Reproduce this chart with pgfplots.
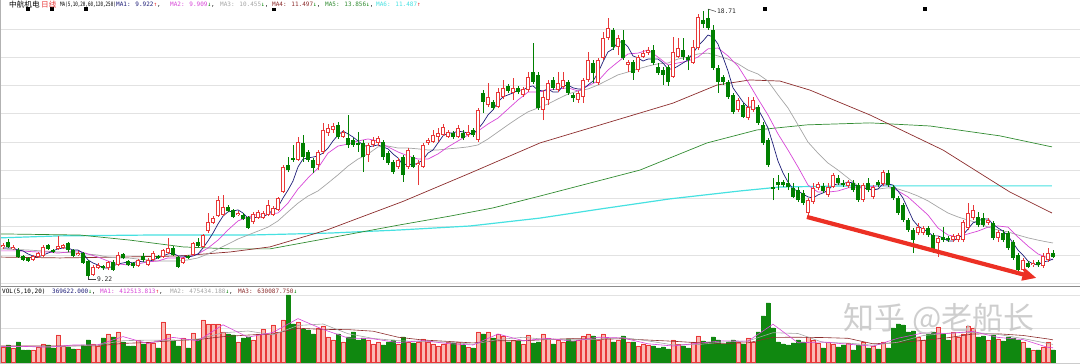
\documentclass[border=0pt]{standalone}
\usepackage{pgfplots}
\pgfplotsset{compat=1.18}
\usepackage{pgfplotstable}
\usepackage{graphicx}
\usepackage{fontspec}
\usetikzlibrary{arrows.meta}
\newfontfamily\cjk{Noto Sans CJK SC}
\newfontfamily\mono{DejaVu Sans Mono}

\definecolor{cred}{RGB}{232,56,56}
\definecolor{cgreen}{RGB}{0,128,0}
\definecolor{vgreen}{RGB}{16,136,16}
\definecolor{vpink}{RGB}{250,186,180}
\definecolor{mafive}{RGB}{30,30,120}
\definecolor{maten}{RGB}{215,70,215}
\definecolor{matwenty}{RGB}{165,165,165}
\definecolor{masixty}{RGB}{140,45,45}
\definecolor{maonetwenty}{RGB}{50,140,50}
\definecolor{matwofifty}{RGB}{70,225,225}
\definecolor{gridc}{RGB}{226,226,226}
\definecolor{arrowred}{RGB}{236,48,36}

% up (red) candles: index open high low close volume
\pgfplotstableread{
i o h l c v
0 10.29 10.43 10.22 10.36 450000
2 10.22 10.36 10.18 10.29 420000
6 9.83 10.00 9.79 9.97 360000
7 9.93 10.11 9.90 10.07 450000
8 9.97 10.36 9.93 10.29 540000
11 10.22 10.68 10.18 10.32 810000
12 10.25 10.39 10.22 10.36 480000
15 10.00 10.15 9.97 10.07 390000
18 9.30 9.65 9.26 9.58 540000
19 9.54 9.72 9.51 9.65 480000
21 9.54 9.79 9.47 9.76 840000
23 9.65 10.11 9.61 10.00 900000
27 9.61 9.86 9.58 9.83 660000
29 9.65 9.90 9.61 9.83 600000
30 9.83 10.15 9.79 10.07 570000
32 9.93 10.22 9.90 10.18 1200000
33 10.07 10.61 10.04 10.25 840000
36 9.72 9.93 9.69 9.90 720000
38 10.00 10.46 9.97 10.43 870000
40 10.29 10.75 10.25 10.71 1260000
41 10.85 11.49 10.78 11.17 1140000
42 11.14 11.38 11.10 11.31 1140000
43 11.38 12.09 11.35 11.95 1140000
44 11.42 12.13 11.38 11.70 900000
47 11.42 11.56 11.38 11.49 600000
50 11.17 11.53 11.10 11.45 660000
51 11.31 11.60 11.28 11.53 840000
52 11.31 11.56 11.28 11.49 990000
53 11.42 11.95 11.38 11.77 840000
54 11.42 11.74 11.38 11.67 1110000
55 11.60 12.06 11.56 12.02 900000
56 12.23 13.19 12.20 13.12 1260000
59 13.37 14.18 13.33 14.00 1200000
63 13.19 13.72 13.01 13.65 1020000
64 13.65 14.68 13.58 14.43 1080000
65 14.32 14.64 14.22 14.50 750000
66 14.43 14.68 14.32 14.57 660000
68 14.18 14.43 14.15 14.36 600000
73 13.54 13.97 13.30 13.90 660000
74 13.90 14.18 13.83 14.07 540000
75 13.97 14.22 13.86 14.15 600000
79 13.12 13.44 13.05 13.37 540000
81 13.12 13.79 13.05 13.72 600000
83 13.19 13.37 12.48 13.26 600000
84 13.12 13.97 13.08 13.90 690000
85 13.97 14.15 13.90 14.07 600000
86 14.00 14.43 13.97 14.25 540000
87 14.18 14.50 14.00 14.32 480000
88 14.25 14.64 14.22 14.53 540000
89 14.18 14.43 14.15 14.36 600000
91 14.18 14.61 14.15 14.50 600000
93 14.25 14.61 14.18 14.36 450000
95 14.07 15.21 14.00 15.14 900000
97 15.31 16.09 15.24 15.60 900000
99 15.24 15.92 15.21 15.77 840000
100 15.60 16.20 15.53 15.92 780000
102 15.74 16.27 15.49 15.92 660000
104 15.67 15.95 15.60 15.88 540000
105 15.84 16.48 15.77 16.31 810000
108 15.14 15.84 14.78 15.60 840000
109 15.49 16.20 15.31 16.09 720000
111 15.84 16.48 15.77 16.09 660000
112 15.95 16.48 15.88 16.20 600000
115 15.49 15.81 15.38 15.74 660000
116 15.60 16.27 15.38 16.20 780000
117 16.20 17.19 16.13 16.91 840000
119 16.09 16.98 16.02 16.91 660000
120 16.98 17.90 16.91 17.68 840000
121 17.68 18.39 17.61 18.04 720000
123 17.37 17.79 17.08 17.68 660000
125 16.73 16.91 16.48 16.84 600000
127 16.55 17.08 16.48 17.01 480000
128 17.01 17.26 16.98 17.15 540000
129 17.15 17.37 17.08 17.26 510000
134 16.31 17.72 16.27 17.19 660000
135 17.01 17.68 16.98 17.33 540000
138 16.80 17.61 16.77 17.37 600000
139 17.33 18.53 17.26 18.43 780000
147 15.14 15.56 15.07 15.49 600000
149 14.85 15.60 14.78 15.24 720000
150 15.14 15.60 15.07 15.49 600000
161 11.49 12.02 11.35 11.95 750000
162 11.88 12.55 11.81 12.38 660000
163 12.38 12.59 12.30 12.52 570000
165 12.13 12.55 12.06 12.41 600000
166 12.41 12.91 12.38 12.84 540000
169 12.45 12.66 12.38 12.59 570000
172 11.95 12.55 11.88 12.48 600000
174 12.06 12.48 11.99 12.41 480000
176 12.52 13.01 12.45 12.94 600000
183 10.78 11.14 10.71 10.99 750000
184 10.78 11.03 10.71 10.96 660000
187 10.43 10.68 9.93 10.61 1050000
190 10.53 10.75 10.46 10.68 900000
191 10.53 10.78 10.46 10.71 750000
192 10.53 11.24 10.46 11.17 840000
193 10.96 11.84 10.89 11.49 1080000
194 11.31 11.77 11.24 11.60 1020000
197 11.14 11.31 11.07 11.24 660000
199 10.61 10.89 10.46 10.82 690000
204 9.47 9.90 9.44 9.83 600000
206 9.65 9.83 9.58 9.72 360000
208 9.61 10.07 9.54 9.97 450000
209 9.83 10.25 9.76 10.07 600000
}\redc

% down (green) candles: index open high low close volume
\pgfplotstableread{
i o h l c v
1 10.46 10.57 10.25 10.29 510000
3 10.18 10.25 9.90 9.93 600000
4 9.97 10.00 9.79 9.83 360000
5 9.90 9.93 9.76 9.79 360000
9 10.36 10.39 10.18 10.22 510000
10 10.18 10.22 10.07 10.11 420000
13 10.43 10.46 10.11 10.18 450000
14 10.18 10.22 9.93 9.97 390000
16 10.07 10.11 9.69 9.72 510000
17 9.79 9.83 9.22 9.26 660000
20 9.61 9.65 9.47 9.54 720000
22 9.76 9.83 9.44 9.47 750000
24 10.04 10.07 9.86 9.90 600000
25 9.79 9.83 9.61 9.65 480000
26 9.72 9.76 9.54 9.61 480000
28 9.97 10.07 9.76 9.83 540000
31 9.97 10.00 9.86 9.90 420000
34 10.25 10.32 9.97 10.00 660000
35 9.93 9.97 9.54 9.58 480000
37 9.97 10.00 9.86 9.90 420000
39 10.46 10.61 10.29 10.32 690000
45 11.70 11.77 11.53 11.56 840000
46 11.60 11.63 11.31 11.35 810000
48 11.42 11.49 11.24 11.28 720000
49 11.35 11.38 10.92 10.96 750000
57 13.19 13.47 12.94 13.01 2010000
58 13.44 13.90 13.30 13.37 1140000
60 13.97 14.25 13.30 13.47 990000
61 13.65 13.72 13.30 13.37 960000
62 13.37 13.44 12.91 13.08 840000
67 14.61 14.71 14.11 14.18 840000
69 14.15 14.96 13.79 13.90 750000
70 14.07 14.15 13.83 13.90 900000
71 13.97 14.36 13.65 13.90 660000
72 13.97 14.07 12.94 13.47 720000
76 14.00 14.07 13.37 13.47 510000
77 13.61 13.69 13.19 13.26 600000
78 13.30 13.37 12.87 12.94 660000
80 13.47 13.54 12.59 12.84 750000
82 13.47 13.54 13.08 13.12 570000
90 14.32 14.39 14.11 14.18 570000
92 14.32 14.43 14.07 14.15 510000
94 14.43 14.50 14.18 14.25 420000
96 15.74 15.84 15.03 15.42 840000
98 15.42 15.49 15.14 15.21 720000
101 15.99 16.06 15.74 15.81 600000
103 15.92 15.99 15.70 15.77 630000
106 16.48 17.51 16.06 16.13 570000
107 16.38 16.48 15.14 15.21 600000
110 16.20 16.31 15.84 15.92 540000
113 16.13 16.20 15.67 15.74 690000
114 15.67 15.74 15.42 15.56 630000
118 16.80 16.91 16.09 16.45 780000
122 17.97 18.04 17.26 17.37 600000
124 17.61 17.97 16.91 16.98 780000
126 16.84 16.91 16.20 16.45 600000
130 17.26 17.44 16.73 16.80 480000
131 16.66 16.80 16.38 16.45 420000
132 16.55 16.66 16.02 16.38 450000
133 16.66 16.73 15.99 16.13 390000
136 17.26 17.68 16.91 17.01 480000
137 17.01 17.08 16.55 16.91 420000
140 18.32 18.64 18.04 18.18 630000
141 18.39 18.71 17.97 18.04 600000
142 17.97 18.15 16.55 16.62 750000
143 16.62 16.73 15.74 16.13 660000
144 16.31 16.38 16.02 16.13 540000
145 16.13 16.20 15.53 15.60 600000
146 15.67 15.74 14.99 15.07 660000
148 15.31 15.38 14.85 14.89 540000
151 15.24 15.31 14.61 14.68 900000
152 14.61 14.71 13.90 13.97 1380000
153 14.07 14.15 13.12 13.19 1770000
154 12.41 12.73 11.95 12.34 1020000
155 12.59 12.84 12.30 12.48 600000
156 12.59 12.66 12.41 12.48 540000
157 12.55 12.91 12.30 12.41 510000
158 12.38 12.55 12.02 12.06 570000
159 12.30 12.41 11.88 11.95 660000
160 12.20 12.30 11.77 11.84 600000
164 12.45 12.55 12.20 12.27 420000
167 12.73 12.84 12.48 12.55 450000
168 12.55 12.66 12.41 12.48 510000
170 12.55 12.66 12.23 12.30 360000
171 12.48 12.55 11.88 11.95 510000
173 12.55 12.73 12.23 12.30 420000
175 12.59 12.66 12.41 12.48 390000
177 12.91 13.01 12.41 12.48 420000
178 12.41 12.48 11.95 12.02 1020000
179 12.02 12.09 11.42 11.49 1140000
180 11.77 11.84 11.17 11.24 1110000
181 11.24 11.31 10.82 10.89 900000
182 10.89 10.96 10.07 10.53 930000
185 10.96 11.03 10.64 10.71 840000
186 10.71 10.78 10.07 10.18 900000
188 10.64 10.99 10.46 10.53 840000
189 10.61 10.68 10.46 10.53 660000
195 11.35 11.53 10.99 11.07 750000
196 11.31 11.49 10.99 11.07 780000
198 11.14 11.21 10.53 10.61 810000
200 10.78 10.89 10.46 10.53 630000
201 10.78 10.85 10.18 10.25 750000
202 10.46 10.53 9.83 9.90 720000
203 10.00 10.07 9.40 9.47 660000
205 9.72 9.79 9.54 9.58 420000
207 9.76 9.83 9.58 9.65 360000
210 10.07 10.18 9.90 9.93 360000
}\grnc

\begin{document}
\begin{tikzpicture}
\path[use as bounding box] (0,0) rectangle (1080pt,364pt);

% ---------------- price pane ----------------
\begin{axis}[
  at={(0pt,78pt)}, anchor=south west,
  width=1080pt, height=286pt, scale only axis,
  xmin=-0.6, xmax=215.4, ymin=8.906, ymax=19.03,
  enlargelimits=false,
  axis line style={draw=none}, tick style={draw=none},
  xtick=\empty, ytick={9,10,...,18}, yticklabels={},
  major tick length=0pt,
  ymajorgrids, grid style={gridc, line width=0.7pt},
  clip=true,
]
% MA250
\addplot[matwofifty, line width=1.2pt, mark=none] coordinates {
(-0.6,10.61)(11.4,10.68)(29.4,10.71)(49.4,10.71)(65.4,10.78)(79.4,10.89)(93.4,11.03)(107.4,11.31)(119.4,11.63)(133.4,11.99)(147.4,12.27)(155.4,12.41)(169.4,12.45)(189.4,12.45)(209.8,12.45)};
% MA120
\addplot[maonetwenty, line width=0.7pt, mark=none] coordinates {
(-0.6,10.75)(15.4,10.71)(25.4,10.53)(36,10.29)(45.4,10.22)(53.4,10.22)(65.4,10.61)(79.4,11.07)(89.4,11.38)(98,11.67)(107.4,12.09)(127.4,13.01)(140.8,13.97)(150.8,14.43)(160.8,14.61)(173.4,14.68)(185.4,14.57)(199.4,14.22)(209.8,13.83)};
% MA60
\addplot[masixty, line width=0.7pt, mark=none] coordinates {
(-0.6,9.93)(11.4,9.90)(23.4,9.93)(35.4,9.97)(45.4,10.11)(53.4,10.29)(64.8,10.89)(80,11.90)(93.4,12.90)(107.4,13.97)(120.8,14.68)(134,15.38)(142.8,16.02)(149.4,16.20)(155.4,16.16)(161.4,15.84)(173.4,14.96)(188,13.72)(201.4,12.23)(209.8,11.49)};
% MA20
\addplot[matwenty, line width=0.7pt, mark=none] coordinates {
(-0.6,10.22)(5,10.18)(11,10.11)(15,10.07)(19,10.00)(21,9.93)(23,9.90)(25,9.90)(27,9.86)(29,9.83)(31,9.79)(33,9.79)(35,9.79)(37,9.83)(39,9.90)(41,10.04)(43,10.22)(45,10.39)(47,10.57)(49,10.71)(51,10.85)(53,10.99)(55,11.21)(57,11.53)(59,11.84)(61,12.09)(63,12.27)(65,12.55)(67,12.84)(69,13.15)(71,13.40)(73,13.58)(75,13.83)(77,13.86)(79,13.79)(81,13.79)(83,13.76)(85,13.72)(87,13.72)(89,13.76)(91,13.79)(93,13.83)(95,13.90)(97,14.11)(99,14.36)(101,14.61)(103,14.85)(105,15.07)(107,15.21)(109,15.35)(111,15.53)(113,15.70)(115,15.81)(117,15.88)(119,16.02)(121,16.20)(123,16.38)(125,16.48)(127,16.59)(129,16.69)(131,16.77)(133,16.80)(135,16.94)(137,17.01)(139,17.12)(141,17.15)(143,17.05)(145,16.94)(147,16.77)(149,16.55)(151,16.41)(153,16.16)(155,15.67)(157,15.21)(159,14.61)(161,14.00)(163,13.61)(165,13.26)(167,13.01)(169,12.73)(171,12.45)(173,12.34)(175,12.34)(177,12.38)(179,12.34)(181,12.23)(183,12.09)(185,11.92)(187,11.70)(189,11.49)(191,11.35)(193,11.24)(195,11.14)(197,10.99)(199,10.89)(201,10.82)(203,10.71)(205,10.61)(207,10.53)(209,10.46)(210,10.43)};
% MA10
\addplot[maten, line width=0.7pt, mark=none] coordinates {
(-0.6,10.15)(3,10.15)(7,10.11)(9,10.11)(11,10.07)(13,10.11)(15,10.15)(17,10.04)(19,9.93)(21,9.79)(23,9.69)(25,9.65)(27,9.69)(29,9.76)(31,9.79)(33,9.90)(35,9.90)(37,9.93)(39,10.04)(41,10.25)(43,10.53)(45,10.89)(47,11.21)(49,11.35)(51,11.45)(53,11.45)(55,11.49)(57,11.84)(59,12.34)(61,12.73)(63,13.08)(65,13.61)(67,13.86)(69,13.93)(71,14.04)(73,14.11)(75,14.04)(77,13.83)(79,13.65)(81,13.51)(83,13.40)(85,13.40)(87,13.58)(89,13.83)(91,14.04)(93,14.25)(95,14.39)(97,14.64)(99,14.85)(101,15.17)(103,15.49)(105,15.77)(107,15.77)(109,15.84)(111,15.88)(113,15.92)(115,15.81)(117,15.99)(119,16.16)(121,16.55)(123,16.84)(125,17.12)(127,17.15)(129,17.26)(131,17.01)(133,16.73)(135,16.80)(137,16.87)(139,17.01)(141,17.30)(143,17.33)(145,17.05)(147,16.69)(149,16.13)(151,15.53)(153,14.96)(155,14.29)(157,13.72)(159,13.12)(161,12.48)(163,12.23)(165,12.23)(167,12.27)(169,12.38)(171,12.41)(173,12.41)(175,12.45)(177,12.45)(179,12.27)(181,12.06)(183,11.74)(185,11.42)(187,10.96)(189,10.71)(191,10.64)(193,10.75)(195,10.85)(197,10.99)(199,11.03)(201,10.99)(203,10.64)(205,10.32)(207,10.04)(209,9.90)(210,9.83)};
% MA5
\addplot[mafive, line width=0.7pt, mark=none] coordinates {
(0,10.25)(1,10.25)(2,10.25)(3,10.18)(4,10.15)(5,10.04)(6,9.97)(7,9.93)(8,10.00)(9,10.07)(10,10.15)(11,10.22)(12,10.25)(13,10.25)(14,10.18)(15,10.18)(16,10.07)(17,9.83)(18,9.72)(19,9.65)(20,9.54)(21,9.54)(22,9.61)(23,9.69)(24,9.72)(25,9.76)(26,9.72)(27,9.79)(28,9.76)(29,9.76)(30,9.83)(31,9.90)(32,9.97)(33,10.04)(34,10.07)(35,9.97)(36,9.97)(37,9.93)(38,9.97)(39,10.04)(40,10.25)(41,10.50)(42,10.78)(43,11.10)(44,11.38)(45,11.53)(46,11.56)(47,11.60)(48,11.49)(49,11.31)(50,11.31)(51,11.35)(52,11.35)(53,11.45)(54,11.60)(55,11.70)(56,12.02)(57,12.30)(58,12.62)(59,13.12)(60,13.40)(61,13.44)(62,13.47)(63,13.51)(64,13.61)(65,13.79)(66,14.04)(67,14.25)(68,14.39)(69,14.29)(70,14.18)(71,14.04)(72,13.90)(73,13.83)(74,13.86)(75,13.90)(76,13.83)(77,13.76)(78,13.58)(79,13.44)(80,13.19)(81,13.23)(82,13.19)(83,13.26)(84,13.37)(85,13.61)(86,13.72)(87,13.97)(88,14.22)(89,14.32)(90,14.32)(91,14.39)(92,14.36)(93,14.32)(94,14.29)(95,14.46)(96,14.68)(97,14.96)(98,15.14)(99,15.42)(100,15.60)(101,15.67)(102,15.74)(103,15.84)(104,15.84)(105,15.95)(106,15.99)(107,15.84)(108,15.81)(109,15.88)(110,15.77)(111,15.77)(112,15.99)(113,16.02)(114,15.92)(115,15.88)(116,15.88)(117,16.02)(118,16.16)(119,16.45)(120,16.84)(121,17.19)(122,17.30)(123,17.54)(124,17.54)(125,17.37)(126,17.05)(127,16.98)(128,16.87)(129,16.94)(130,16.94)(131,16.94)(132,16.80)(133,16.59)(134,16.59)(135,16.69)(136,16.80)(137,16.91)(138,17.15)(139,17.40)(140,17.58)(141,17.79)(142,17.72)(143,17.47)(144,17.01)(145,16.52)(146,15.92)(147,15.67)(148,15.42)(149,15.24)(150,15.24)(151,15.17)(152,14.85)(153,14.50)(154,13.93)(155,13.33)(156,12.91)(157,12.59)(158,12.34)(159,12.27)(160,12.16)(161,12.06)(162,12.02)(163,12.13)(164,12.20)(165,12.30)(166,12.48)(167,12.52)(168,12.52)(169,12.59)(170,12.55)(171,12.38)(172,12.38)(173,12.34)(174,12.30)(175,12.34)(176,12.52)(177,12.52)(178,12.48)(179,12.27)(180,12.02)(181,11.63)(182,11.24)(183,11.03)(184,10.92)(185,10.82)(186,10.68)(187,10.68)(188,10.61)(189,10.50)(190,10.50)(191,10.61)(192,10.71)(193,10.92)(194,11.14)(195,11.21)(196,11.28)(197,11.28)(198,11.10)(199,10.96)(200,10.85)(201,10.68)(202,10.43)(203,10.18)(204,10.00)(205,9.79)(206,9.69)(207,9.65)(208,9.76)(209,9.79)(210,9.86)};

% wicks
\addplot[draw=none, mark=none, forget plot,
  error bars/.cd, y dir=plus, y explicit, error mark=none,
  error bar style={draw=cred, line width=0.9pt}]
  table[x=i, y=l, y error expr={\thisrow{h}-\thisrow{l}}] {\redc};
\addplot[draw=none, mark=none, forget plot,
  error bars/.cd, y dir=plus, y explicit, error mark=none,
  error bar style={draw=cgreen, line width=0.9pt}]
  table[x=i, y=l, y error expr={\thisrow{h}-\thisrow{l}}] {\grnc};
% red hollow bodies
\addplot[draw=none, mark=none, forget plot,
  error bars/.cd, y dir=plus, y explicit, error mark=none,
  error bar style={draw=cred, line width=3.8pt}]
  table[x=i, y=o, y error expr={\thisrow{c}-\thisrow{o}}] {\redc};
\addplot[draw=none, mark=none, forget plot,
  error bars/.cd, y dir=plus, y explicit, error mark=none,
  error bar style={draw=white, line width=1.8pt, shorten <=1pt, shorten >=1pt}]
  table[x=i, y=o, y error expr={\thisrow{c}-\thisrow{o}}] {\redc};
% green filled bodies
\addplot[draw=none, mark=none, forget plot,
  error bars/.cd, y dir=plus, y explicit, error mark=none,
  error bar style={draw=cgreen, line width=3.8pt}]
  table[x=i, y=c, y error expr={\thisrow{o}-\thisrow{c}}] {\grnc};

% info markers
\addplot[only marks, mark=square*, mark size=1.3pt, black] coordinates {
(5,18.73)(9.8,18.73)(16.6,18.73)(54.2,18.70)(152.4,18.73)(184.4,18.73)};

% annotations
\draw[black!75, line width=0.5pt] (axis cs:141,18.71) -- ++(8pt,-2.5pt)
  node[right, inner sep=0.8pt, font=\mono\fontsize{6.3}{7}\selectfont, text=black!85] {18.71};
\draw[black!75, line width=0.5pt] (axis cs:17,9.22) |- ++(8pt,-2.2pt)
  node[right, inner sep=0.8pt, font=\mono\fontsize{6.3}{7}\selectfont, text=black!85] {9.22};
\draw[arrowred, line width=4.2pt, -{Triangle[length=14pt,width=12pt]}]
  (axis cs:160.8,11.35) -- (axis cs:206.7,9.19);
\end{axis}

% ---------------- volume pane ----------------
\begin{axis}[
  at={(0pt,2pt)}, anchor=south west,
  width=1080pt, height=75pt, scale only axis,
  xmin=-0.6, xmax=215.4, ymin=0, ymax=2250000,
  enlargelimits=false, scaled y ticks=false,
  axis line style={draw=none}, tick style={draw=none},
  xtick=\empty, ytick={1000000,2000000}, yticklabels={},
  major tick length=0pt,
  ymajorgrids, grid style={gridc, line width=0.7pt},
  clip=false,
]
\addplot[ybar, bar width=3.6pt, bar shift=0pt, fill=vpink, draw=cred, line width=0.5pt, forget plot]
  table[x=i, y=v] {\redc};
\addplot[ybar, bar width=3.6pt, bar shift=0pt, fill=vgreen, draw=vgreen, line width=0.3pt, forget plot]
  table[x=i, y=v] {\grnc};
\addplot[masixty, line width=0.6pt, mark=none] coordinates {
(-0.6,480000)(19,484500)(24,558000)(29,585000)(34,642000)(39,672000)(44,760500)(49,808500)(54,846000)(59,1012500)(64,978000)(69,972000)(74,924000)(79,744000)(84,660000)(89,618000)(94,571500)(99,636000)(104,636000)(109,675000)(114,703500)(119,679500)(124,699000)(129,658500)(134,622500)(139,577500)(144,556500)(149,576000)(154,739500)(159,742500)(164,733500)(169,711000)(174,546000)(179,580500)(184,648000)(189,729000)(194,840000)(199,846000)(204,796500)(209,691500)(210,664500)};
\addplot[matwenty, line width=0.6pt, mark=none] coordinates {
(-0.6,470000)(9,456000)(14,477000)(19,513000)(24,639000)(29,657000)(34,645000)(39,687000)(44,876000)(49,930000)(54,816000)(59,1095000)(64,1140000)(69,849000)(74,708000)(79,639000)(84,612000)(89,597000)(94,531000)(99,675000)(104,741000)(109,675000)(114,666000)(119,684000)(124,732000)(129,633000)(134,513000)(139,522000)(144,600000)(149,630000)(154,879000)(159,855000)(164,588000)(169,567000)(174,504000)(179,594000)(184,792000)(189,864000)(194,888000)(199,828000)(204,705000)(209,555000)(210,528000)};
\addplot[maten, line width=0.6pt, mark=none] coordinates {
(-0.6,470000)(4,468000)(9,444000)(14,510000)(19,516000)(24,762000)(29,552000)(34,738000)(39,636000)(44,1116000)(49,744000)(54,888000)(59,1302000)(64,978000)(69,720000)(74,696000)(79,582000)(84,642000)(89,552000)(94,510000)(99,840000)(104,642000)(109,708000)(114,624000)(119,744000)(124,720000)(129,546000)(134,480000)(139,564000)(144,636000)(149,624000)(154,1134000)(159,576000)(164,600000)(169,534000)(174,474000)(179,714000)(184,870000)(189,858000)(194,918000)(199,738000)(204,672000)(209,438000)(210,426000)};
\end{axis}

% frame lines
\draw[black!45, line width=0.9pt] (0pt,78pt) -- (1080pt,78pt);
\draw[black!30, line width=1pt] (0.6pt,1pt) -- (0.6pt,364pt);
\draw[black!20, line width=0.6pt] (0pt,1pt) -- (1080pt,1pt);

% headers
\begin{scope}[every node/.style={anchor=west, inner sep=0pt, font=\mono\fontsize{6}{7}\selectfont}]
\node at (9pt,359.5pt) {\cjk\fontsize{7.6}{8}\selectfont 中航机电};
\node at (41pt,359.5pt) {\cjk\fontsize{7.6}{8}\selectfont\textcolor{cred}{日线}};
\node at (60pt,359.5pt) {\scalebox{0.7}[1]{MA(5,10,20,60,120,250)}};
\node at (116pt,359.5pt) {\textcolor{mafive}{MA1: 9.922}\textcolor{cred}{↑},};
\node at (170pt,359.5pt) {\textcolor{maten}{MA2: 9.909}\textcolor{cgreen}{↓},};
\node at (220pt,359.5pt) {\textcolor{matwenty}{MA3: 10.455}\textcolor{cgreen}{↓},};
\node at (272pt,359.5pt) {\textcolor{masixty}{MA4: 11.497}\textcolor{cgreen}{↓},};
\node at (325pt,359.5pt) {\textcolor{maonetwenty}{MA5: 13.856}\textcolor{cgreen}{↓},};
\node at (376pt,359.5pt) {\textcolor{matwofifty}{MA6: 11.487}\textcolor{cred}{↑}};
\node at (2pt,72.5pt) {VOL(5,10,20)};
\node at (52pt,72.5pt) {\textcolor{mafive}{369622.000}\textcolor{cgreen}{↓},};
\node at (100pt,72.5pt) {\textcolor{maten}{MA1: 412513.813}\textcolor{cred}{↑},};
\node at (170pt,72.5pt) {\textcolor{matwenty}{MA2: 475434.188}\textcolor{cgreen}{↓},};
\node at (238pt,72.5pt) {\textcolor{masixty}{MA3: 630087.750}\textcolor{cgreen}{↓}};
\end{scope}

% watermark
\node[anchor=west, inner sep=0pt, text=black!24, text opacity=0.8,
  font=\cjk\fontsize{31}{33}\selectfont] at (843pt,45pt) {知乎 @老船长};
\end{tikzpicture}
\end{document}
